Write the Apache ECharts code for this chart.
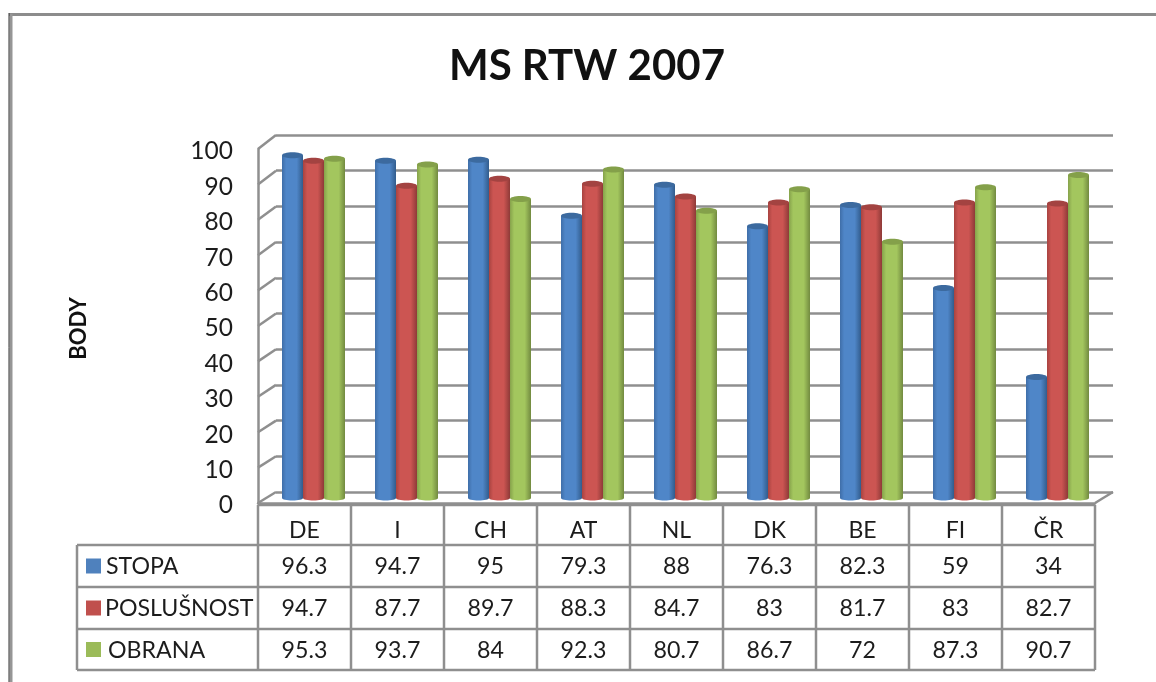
<!DOCTYPE html>
<html>
<head>
<meta charset="utf-8">
<title>MS RTW 2007</title>
<script src="https://cdn.jsdelivr.net/npm/echarts@6/dist/echarts.min.js"></script>
<style>
html, body { margin: 0; padding: 0; background: #fff; }
#main { width: 1156px; height: 682px; }
</style>
</head>
<body>
<div id="main"></div>
<script>
// data
const categories = ['DE', 'I', 'CH', 'AT', 'NL', 'DK', 'BE', 'FI', 'ČR'];
const stopa = [96.3, 94.7, 95, 79.3, 88, 76.3, 82.3, 59, 34];
const poslusnost = [94.7, 87.7, 89.7, 88.3, 84.7, 83, 81.7, 83, 82.7];
const obrana = [95.3, 93.7, 84, 92.3, 80.7, 86.7, 72, 87.3, 90.7];
const seriesNames = ['STOPA', 'POSLUŠNOST', 'OBRANA'];
const yTicks = [0, 10, 20, 30, 40, 50, 60, 70, 80, 90, 100];

const allValues = [stopa, poslusnost, obrana];
const fontName = 'Lato';
const lineGray = '#8f8f8f';
const lineW = 2.5;
const textColor = '#1c1c1c';
const colors = [
    { edgeL: '#3f6ea8', mid: '#4f86c8', edgeR: '#325c8c', cap: '#3c6a9f' },
    { edgeL: '#a84340', mid: '#cc5552', edgeR: '#8e3a38', cap: '#a34341' },
    { edgeL: '#86a24b', mid: '#a3c65e', edgeR: '#728a40', cap: '#84a04a' }
];

// table layout
const tableLeft = 77, frontLeft = 258, colW = 93;
const rowTops = [505, 545, 587, 629, 670];
const swatchText = [106, 105, 108];

function gradient(c) {
    return new echarts.graphic.LinearGradient(0, 0, 1, 0, [
        { offset: 0, color: c.edgeL },
        { offset: 0.2, color: c.mid },
        { offset: 0.7, color: c.mid },
        { offset: 1, color: c.edgeR }
    ]);
}

function hLine(x1, x2, y) {
    return { type: 'line', shape: { x1: x1, y1: y, x2: x2, y2: y }, style: { stroke: lineGray, lineWidth: lineW } };
}
function vLine(x, y1, y2) {
    return { type: 'line', shape: { x1: x, y1: y1, x2: x, y2: y2 }, style: { stroke: lineGray, lineWidth: lineW } };
}
function cellText(str, x, y, align) {
    return {
        type: 'text', x: x, y: y + 1,
        style: { text: str, fill: textColor, font: '23.2px ' + fontName, align: align, verticalAlign: 'middle' }
    };
}

// 表格部分
let tableItems = [];
let right = frontLeft + colW * categories.length;
tableItems.push(hLine(frontLeft, right, rowTops[0]));
rowTops.slice(1).forEach(y => tableItems.push(hLine(tableLeft, right, y)));
tableItems.push(vLine(tableLeft, rowTops[1], rowTops[4]));
for (let i = 0; i <= categories.length; i++) {
    tableItems.push(vLine(frontLeft + colW * i, rowTops[0], rowTops[4]));
}
seriesNames.forEach((name, s) => {
    let mid = (rowTops[s + 1] + rowTops[s + 2]) / 2;
    tableItems.push({
        type: 'rect',
        shape: { x: 86, y: mid - 7.5, width: 15, height: 15 },
        style: { fill: ['#4f81bd', '#c0504d', '#9bbb59'][s] }
    });
    tableItems.push(cellText(name, swatchText[s], mid, 'left'));
    allValues[s].forEach((v, i) => {
        tableItems.push(cellText(String(v), frontLeft + colW * (i + 0.5), mid, 'center'));
    });
});

// 外框
let frameItems = [
    { type: 'line', shape: { x1: 9, y1: 14.5, x2: 1156, y2: 14.5 }, style: { stroke: '#8c8c8c', lineWidth: 3 } },
    { type: 'line', shape: { x1: 11, y1: 14, x2: 11, y2: 682 }, style: { stroke: '#969696', lineWidth: 3 } },
    { type: 'line', shape: { x1: 9, y1: 13, x2: 9, y2: 682 }, style: { stroke: '#333', lineWidth: 1 } }
];

// 斜线: 前面的刻度连到后墙
function connector(params, api) {
    let y = api.coord([0, api.value(1)])[1];
    let x = api.value(2) ? params.coordSys.x + params.coordSys.width : params.coordSys.x;
    let dy = 11 + 3 * api.value(1) / 100;
    return {
        type: 'line',
        shape: { x1: x, y1: y, x2: x + 18, y2: y - dy },
        style: { stroke: lineGray, lineWidth: lineW, fill: null }
    };
}

// 圆柱的顶和底
function capRenderer(s) {
    return function (params, api) {
        let top = api.coord([api.value(0), api.value(1)]);
        let base = api.coord([api.value(0), 0]);
        let cx = top[0] + (s - 1) * 21;
        return {
            type: 'group',
            children: [
                {
                    type: 'ellipse',
                    shape: { cx: cx, cy: base[1], rx: 10.5, ry: 2.5 },
                    style: { fill: gradient(colors[s]) }
                },
                {
                    type: 'ellipse',
                    shape: { cx: cx, cy: top[1], rx: 10.5, ry: 3 },
                    style: { fill: colors[s].cap }
                }
            ]
        };
    };
}

let seriesList = [{
    type: 'custom',
    name: 'connectors',
    xAxisIndex: 0,
    yAxisIndex: 0,
    silent: true,
    z: 1,
    renderItem: connector,
    data: yTicks.map(v => [0, v, 0]).concat([[0, 0, 1]]),
    encode: { x: 0, y: 1 }
}];
allValues.forEach((vals, s) => {
    seriesList.push({
        type: 'bar',
        name: seriesNames[s],
        xAxisIndex: 2,
        yAxisIndex: 2,
        data: vals,
        barWidth: 21,
        barGap: 0,
        z: 3,
        itemStyle: { color: gradient(colors[s]) }
    });
});
allValues.forEach((vals, s) => {
    seriesList.push({
        type: 'custom',
        name: seriesNames[s] + ' cap',
        xAxisIndex: 2,
        yAxisIndex: 2,
        silent: true,
        z: 4,
        renderItem: capRenderer(s),
        data: vals.map((v, i) => [i, v]),
        encode: { x: 0, y: 1 }
    });
});

let blankAxis = { axisLabel: { show: false }, axisLine: { show: false }, axisTick: { show: false } };

let option = {
    animation: false,
    backgroundColor: '#fff',
    title: {
        text: 'MS RTW 2007',
        left: 582,
        top: 40,
        textAlign: 'center',
        textStyle: { fontFamily: fontName, fontWeight: 'bold', fontSize: 42, color: '#111' }
    },
    grid: [
        { left: frontLeft, top: 149, width: colW * 9, height: 354 },   // 前面: 坐标轴线和类别
        { left: 276, top: 135, width: 837, height: 357 },              // 后墙
        { left: 267, top: 142, width: 837, height: 356 },              // 柱子
        { left: frontLeft, top: 151.5, width: colW * 9, height: 354 }  // 数值标签略低于刻度
    ],
    xAxis: [
        {
            gridIndex: 0, type: 'category', data: categories,
            axisTick: { show: false },
            axisLine: { lineStyle: { color: lineGray, width: lineW } },
            axisLabel: { fontFamily: fontName, fontSize: 23, color: textColor, margin: 16 }
        },
        Object.assign({ gridIndex: 1, type: 'category', data: categories }, blankAxis),
        Object.assign({ gridIndex: 2, type: 'category', data: categories }, blankAxis),
        Object.assign({ gridIndex: 3, type: 'category', data: categories }, blankAxis)
    ],
    yAxis: [
        {
            gridIndex: 0, type: 'value', min: 0, max: 100, interval: 10,
            axisLine: { show: true, lineStyle: { color: lineGray, width: lineW } },
            axisTick: { show: false },
            axisLabel: { show: false },
            splitLine: { show: false }
        },
        Object.assign({
            gridIndex: 1, type: 'value', min: 0, max: 100, interval: 10,
            splitLine: { show: true, lineStyle: { color: lineGray, width: lineW } }
        }, blankAxis),
        Object.assign({
            gridIndex: 2, type: 'value', min: 0, max: 100, interval: 10,
            splitLine: { show: false }
        }, blankAxis),
        {
            gridIndex: 3, type: 'value', min: 0, max: 100, interval: 10,
            name: 'BODY', nameLocation: 'middle', nameGap: 168, nameRotate: 90,
            nameTextStyle: { fontFamily: fontName, fontWeight: 'bold', fontSize: 22, color: '#111' },
            axisLine: { show: false },
            axisTick: { show: false },
            axisLabel: { fontFamily: fontName, fontSize: 24.5, color: textColor, margin: 25 },
            splitLine: { show: false }
        }
    ],
    series: seriesList,
    graphic: { elements: frameItems.concat(tableItems) }
};

let myChart = echarts.init(document.getElementById('main'));
myChart.setOption(option);
</script>
</body>
</html>
